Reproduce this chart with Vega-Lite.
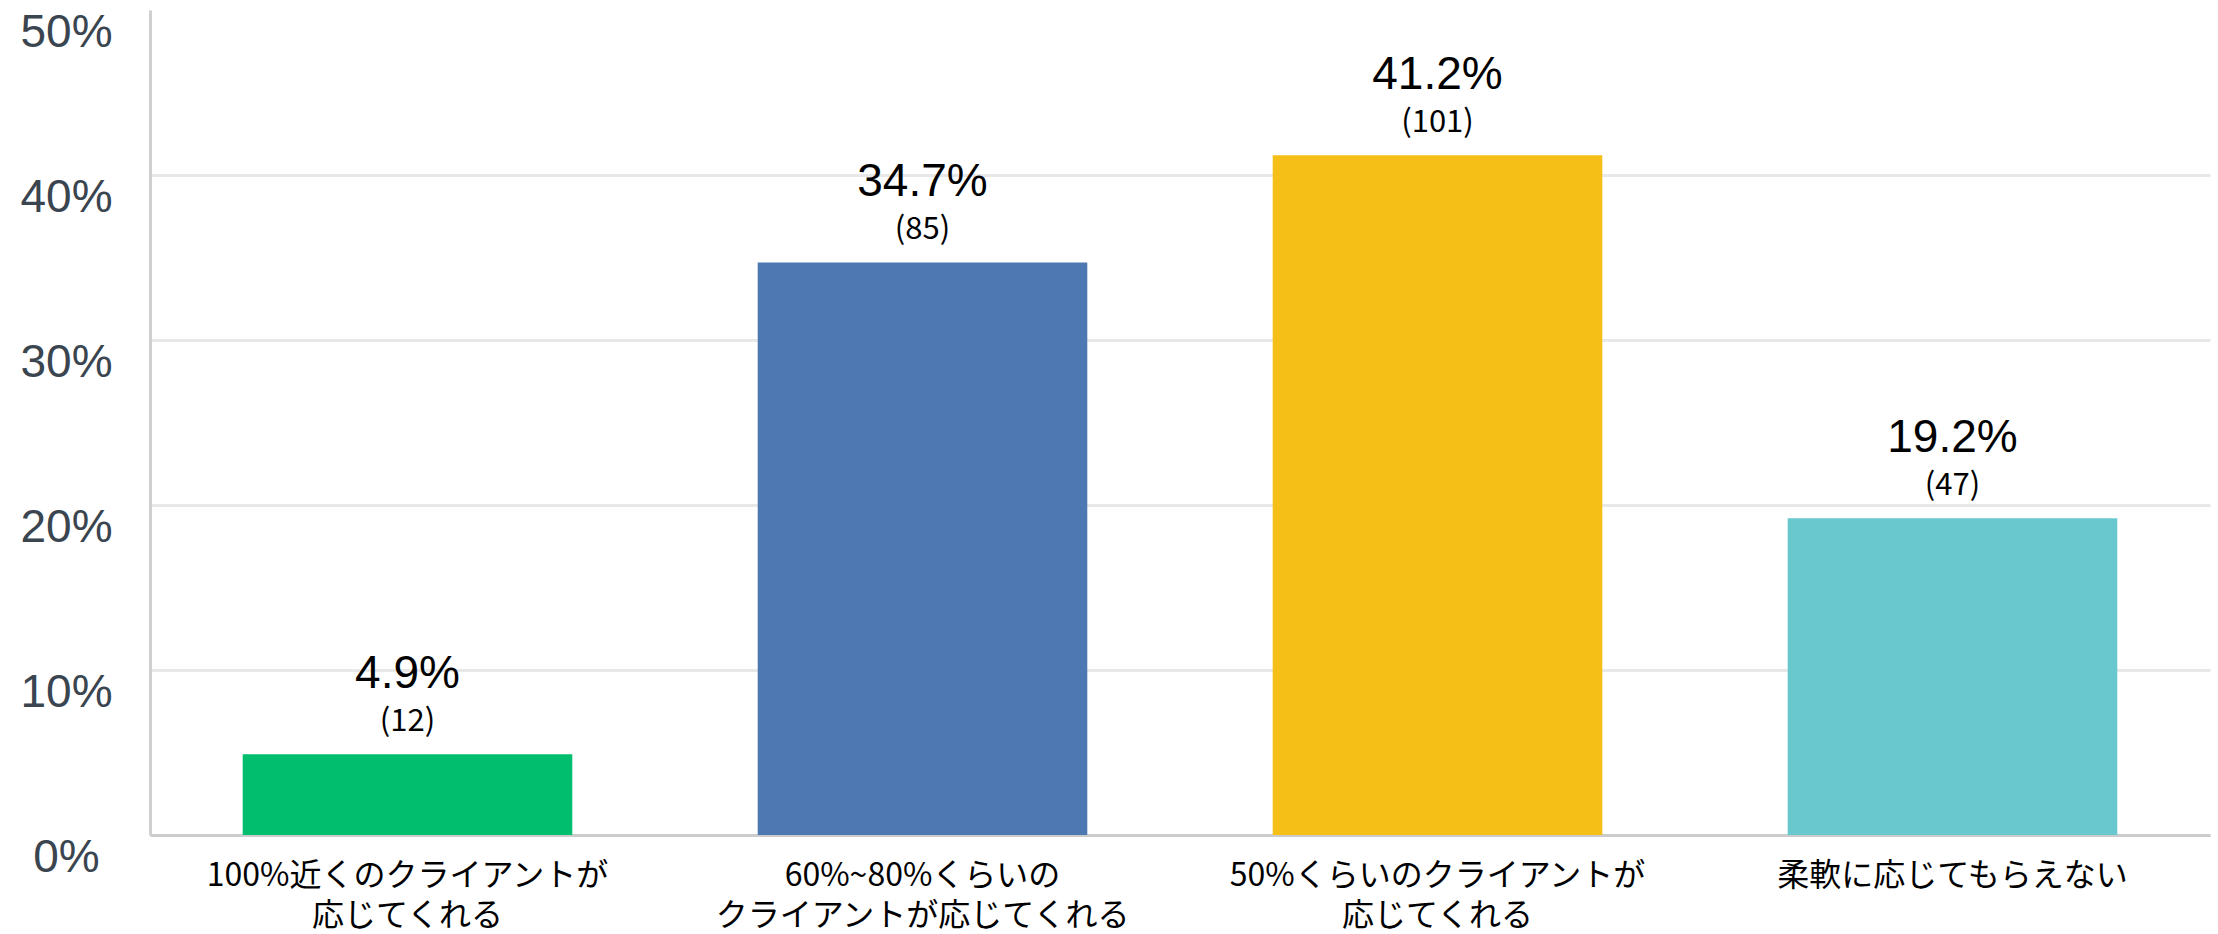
{
  "$schema": "https://vega.github.io/schema/vega-lite/v6.json",
  "width": 2060,
  "height": 825,
  "autosize": {"type": "none"},
  "padding": {"left": 150, "top": 10, "right": 8, "bottom": 99},
  "background": "white",
  "config": {"view": {"stroke": null}},
  "data": {
    "values": [
      {"category": "100%近くのクライアントが応じてくれる", "pct": 4.9, "n": 12},
      {"category": "60%~80%くらいのクライアントが応じてくれる", "pct": 34.7, "n": 85},
      {"category": "50%くらいのクライアントが応じてくれる", "pct": 41.2, "n": 101},
      {"category": "柔軟に応じてもらえない", "pct": 19.2, "n": 47}
    ]
  },
  "transform": [
    {"calculate": "format(datum.pct, '.1f') + '%'", "as": "pctLabel"},
    {"calculate": "'(' + datum.n + ')'", "as": "nLabel"}
  ],
  "encoding": {
    "x": {
      "field": "category",
      "type": "nominal",
      "sort": null,
      "scale": {"paddingInner": 0.36, "paddingOuter": 0.18},
      "axis": {
        "title": null,
        "labelAngle": 0,
        "ticks": false,
        "domainColor": "#cccccc",
        "domainWidth": 3,
        "labelFont": "Noto Sans CJK JP",
        "labelFontSize": 32,
        "labelColor": "#000000",
        "labelPadding": 25,
        "labelBaseline": "top",
        "labelLineHeight": 40,
        "labelLimit": 0,
        "labelExpr": "datum.label == '100%近くのクライアントが応じてくれる' ? ['100%近くのクライアントが', '応じてくれる'] : datum.label == '60%~80%くらいのクライアントが応じてくれる' ? ['60%~80%くらいの', 'クライアントが応じてくれる'] : datum.label == '50%くらいのクライアントが応じてくれる' ? ['50%くらいのクライアントが', '応じてくれる'] : datum.label"
      }
    },
    "y": {
      "field": "pct",
      "type": "quantitative",
      "scale": {"domain": [0, 50]},
      "axis": {
        "title": null,
        "values": [0, 10, 20, 30, 40, 50],
        "ticks": false,
        "domainColor": "#d0d0d0",
        "domainWidth": 3,
        "gridColor": {"condition": {"test": "datum.value >= 50", "value": "transparent"}, "value": "#e8e8e8"},
        "gridWidth": 3,
        "labelExpr": "datum.value + '%'",
        "labelFont": "Liberation Sans",
        "labelFontSize": 46,
        "labelColor": "#3a4550",
        "labelAlign": "center",
        "labelBaseline": "middle",
        "labelPadding": 84,
        "labelOffset": 22,
        "labelBound": false,
        "labelFlush": false
      }
    }
  },
  "layer": [
    {
      "mark": {"type": "bar"},
      "encoding": {
        "color": {
          "field": "category",
          "type": "nominal",
          "scale": {
            "domain": ["100%近くのクライアントが応じてくれる", "60%~80%くらいのクライアントが応じてくれる", "50%くらいのクライアントが応じてくれる", "柔軟に応じてもらえない"],
            "range": ["#00BE6E", "#4E78B2", "#F6BF17", "#68C8CD"]
          },
          "legend": null
        }
      }
    },
    {
      "mark": {"type": "text", "dy": -66, "baseline": "alphabetic", "fontSize": 46, "font": "Liberation Sans", "color": "#000000"},
      "encoding": {"text": {"field": "pctLabel"}}
    },
    {
      "mark": {"type": "text", "dy": -23, "baseline": "alphabetic", "fontSize": 31, "font": "Noto Sans CJK JP", "color": "#000000"},
      "encoding": {"text": {"field": "nLabel"}}
    }
  ]
}
